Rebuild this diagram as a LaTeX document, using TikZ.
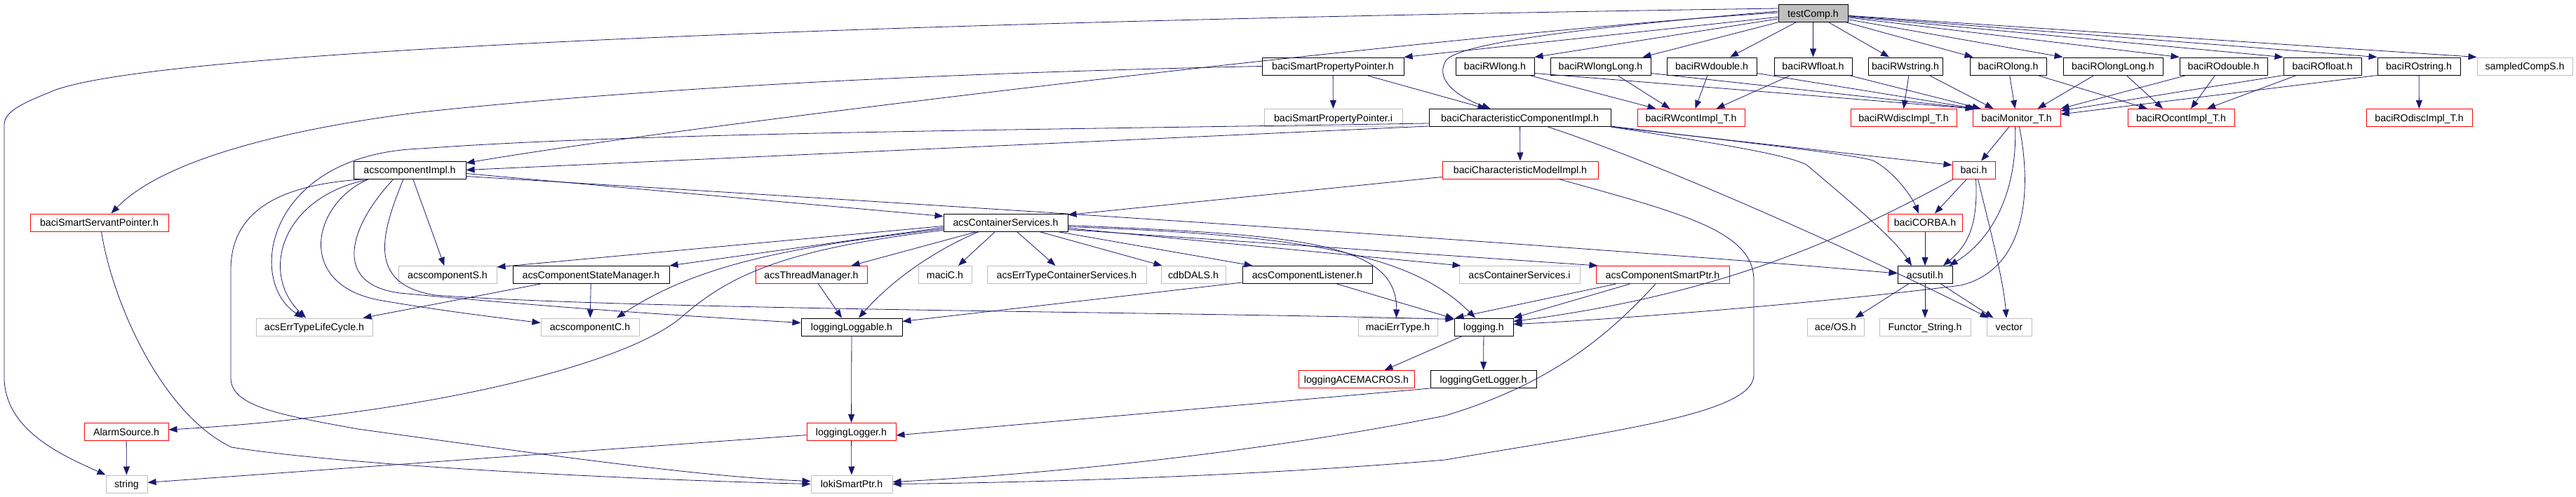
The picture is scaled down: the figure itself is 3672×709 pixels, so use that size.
\documentclass[tikz,border=0pt]{standalone}
\usepackage{fontspec}
\setmainfont{Liberation Sans}
\usetikzlibrary{arrows.meta,calc}
\definecolor{edgeblue}{HTML}{191970}
\definecolor{extgray}{HTML}{BFBFBF}
\tikzset{
  box/.style={rectangle, minimum height=25, inner sep=0pt, line width=1pt,
    font=\fontsize{14.2}{16}\selectfont, text height=10.4pt, text depth=0pt},
  doc/.style={box, draw=black, fill=white},
  trunc/.style={box, draw=red, fill=white},
  ext/.style={box, draw=extgray, fill=white},
  root/.style={box, draw=black, fill=extgray},
  e/.style={draw=edgeblue, line width=0.8pt, -{Triangle[length=12pt,width=9pt]}, edgeblue},
}
\begin{document}
\begin{tikzpicture}[x=1pt,y=-1pt]
\fill[white] (0,0) rectangle (3672,709);
\useasboundingbox (0,0) rectangle (3672,709);
% ---------- nodes ----------
\node[root,minimum width=99] (tc) at (2584.5,19) {testComp.h};
\node[doc,minimum width=202] (sppH) at (1900,94.5) {baciSmartPropertyPointer.h};
\node[doc,minimum width=112] (rwl) at (2131,94.5) {baciRWlong.h};
\node[doc,minimum width=143] (rwll) at (2281.5,94.5) {baciRWlongLong.h};
\node[doc,minimum width=128] (rwd) at (2440,94.5) {baciRWdouble.h};
\node[doc,minimum width=111] (rwf) at (2584.5,94.5) {baciRWfloat.h};
\node[doc,minimum width=106] (rws) at (2716,94.5) {baciRWstring.h};
\node[doc,minimum width=109] (rol) at (2862.5,94.5) {baciROlong.h};
\node[doc,minimum width=142] (roll) at (3012,94.5) {baciROlongLong.h};
\node[doc,minimum width=125] (rod) at (3169.5,94.5) {baciROdouble.h};
\node[doc,minimum width=111] (rof) at (3310.5,94.5) {baciROfloat.h};
\node[doc,minimum width=118] (ros) at (3448,94.5) {baciROstring.h};
\node[ext,minimum width=136] (samp) at (3599,94.5) {sampledCompS.h};
\node[ext,minimum width=197] (sppI) at (1900.5,168) {baciSmartPropertyPointer.i};
\node[doc,minimum width=259] (cci) at (2166.5,168) {baciCharacteristicComponentImpl.h};
\node[trunc,minimum width=153] (rwc) at (2410.5,168) {baciRWcontImpl\_T.h};
\node[trunc,minimum width=151] (rwdi) at (2713.5,168) {baciRWdiscImpl\_T.h};
\node[trunc,minimum width=125] (mon) at (2874.5,168) {baciMonitor\_T.h};
\node[trunc,minimum width=152] (roc) at (3109,168) {baciROcontImpl\_T.h};
\node[trunc,minimum width=151] (rodi) at (3448.5,168) {baciROdiscImpl\_T.h};
\node[doc,minimum width=160] (aci) at (584,242.5) {acscomponentImpl.h};
\node[trunc,minimum width=222] (cmi) at (2167,242.5) {baciCharacteristicModelImpl.h};
\node[trunc,minimum width=61] (baci) at (2813.5,242.5) {baci.h};
\node[trunc,minimum width=197] (ssp) at (141.5,317.5) {baciSmartServantPointer.h};
\node[doc,minimum width=177] (acs) at (1433.5,317.5) {acsContainerServices.h};
\node[trunc,minimum width=106] (corba) at (2744,317.5) {baciCORBA.h};
\node[ext,minimum width=140] (cS) at (638,392) {acscomponentS.h};
\node[doc,minimum width=223] (csm) at (842.5,392) {acsComponentStateManager.h};
\node[trunc,minimum width=159] (thr) at (1156.5,392) {acsThreadManager.h};
\node[ext,minimum width=76] (maciC) at (1347,392) {maciC.h};
\node[ext,minimum width=227] (etcs) at (1520.5,392) {acsErrTypeContainerServices.h};
\node[ext,minimum width=92] (cdb) at (1701,392) {cdbDALS.h};
\node[doc,minimum width=185] (lis) at (1863.5,392) {acsComponentListener.h};
\node[ext,minimum width=172] (csi) at (2166,392) {acsContainerServices.i};
\node[trunc,minimum width=190] (csp) at (2370,392) {acsComponentSmartPtr.h};
\node[doc,minimum width=78] (util) at (2744,392) {acsutil.h};
\node[ext,minimum width=166] (lc) at (448,466.5) {acsErrTypeLifeCycle.h};
\node[ext,minimum width=140] (cC) at (841,466.5) {acscomponentC.h};
\node[doc,minimum width=144] (ll) at (1214,466.5) {loggingLoggable.h};
\node[ext,minimum width=113] (met) at (1992.5,466.5) {maciErrType.h};
\node[doc,minimum width=84] (log) at (2115,466.5) {logging.h};
\node[ext,minimum width=81] (ace) at (2616.5,466.5) {ace/OS.h};
\node[ext,minimum width=130] (fs) at (2744,466.5) {Functor\_String.h};
\node[ext,minimum width=64] (vec) at (2864,466.5) {vector};
\node[trunc,minimum width=165] (acem) at (1933.5,541) {loggingACEMACROS.h};
\node[doc,minimum width=151] (glog) at (2114.5,541) {loggingGetLogger.h};
\node[trunc,minimum width=120] (alarm) at (180,616) {AlarmSource.h};
\node[trunc,minimum width=127] (logger) at (1213.5,616) {loggingLogger.h};
\node[ext,minimum width=59] (str) at (180.5,690.5) {string};
\node[ext,minimum width=116] (loki) at (1214,690.5) {lokiSmartPtr.h};
% ---------- edges from testComp.h ----------
\draw[e] (tc) -- (sppH.north east);
\draw[e] (tc) -- (rwl.north east);
\draw[e] (tc) -- ($(rwll.north east)+(-12,0)$);
\draw[e] (tc) -- ($(rwd.north)+(26,0)$);
\draw[e] (tc) -- (rwf);
\draw[e] (tc) -- ($(rws.north)+(-23,0)$);
\draw[e] (tc) -- ($(rol.north west)+(5,0)$);
\draw[e] (tc) -- (roll.north west);
\draw[e] (tc) -- (rod.north west);
\draw[e] (tc) -- (rof.north west);
\draw[e] (tc) -- (ros.north west);
\draw[e] (tc) -- (samp.north west);
\draw[e] ($(tc.west)+(0,-3)$) .. controls (2300,36) and (2090,58) .. (2062,85)
   .. controls (2045,110) and (2070,135) .. ($(cci.north)+(-42,0)$);
\draw[e] ($(tc.west)+(0,-1)$) .. controls (2100,45) and (1000,175) .. ($(aci.north east)+(0,3)$);
\draw[e] ($(tc.west)+(0,-7)$) .. controls (1300,30) and (200,70) .. (70,132)
   .. controls (30,148) and (6,160) .. (6,178) -- (6,540)
   .. controls (8,615) and (90,650) .. (str.north west);
% ---------- baciSmartPropertyPointer.h ----------
\draw[e] (sppH) -- (sppI);
\draw[e] ($(sppH.south)+(48,0)$) -- ($(cci.north)+(-48,0)$);
\draw[e] (sppH.west) .. controls (1300,105) and (900,128) .. (600,160)
   .. controls (400,185) and (230,230) .. ($(ssp.north)+(17,0)$);
% ---------- baciCharacteristicComponentImpl.h ----------
\draw[e] ($(cci.west)+(0,12)$) -- (aci.east);
\draw[e] ($(cci.west)+(0,8)$) .. controls (1400,186) and (900,190) .. (600,212)
   .. controls (380,220) and (350,400) .. ($(lc.north)+(-16,0)$);
\draw[e] (cci) -- (cmi);
\draw[e] (cci.south east) -- ($(baci.west)+(0,-7)$);
\draw[e] (cci.south east) .. controls (2450,205) and (2545,220) .. (2575,235)
   .. controls (2640,290) and (2700,340) .. ($(util.north)+(-19,0)$);
\draw[e] ($(cci.south east)+(0,-1)$) .. controls (2500,205) and (2640,220) .. (2670,229)
   .. controls (2700,245) and (2725,280) .. ($(corba.north)+(-9,0)$);
\draw[e] ($(cci.south)+(40,0)$) .. controls (2400,245) and (2700,385) .. ($(vec.north west)+(3,0)$);
% ---------- baciCharacteristicModelImpl.h ----------
\draw[e] ($(cmi.west)+(0,10)$) -- ($(acs.north east)+(0,2)$);
\draw[e] ($(cmi.south)+(55,0)$) .. controls (2400,305) and (2500,330) .. (2500,400) -- (2500,535)
   .. controls (2500,590) and (2300,615) .. (2060,656)
   .. controls (1800,678) and (1500,688) .. (loki.east);
% ---------- acscomponentImpl.h ----------
\draw[e] ($(aci.east)+(0,5)$) -- ($(acs.west)+(0,-9)$);
\draw[e] ($(aci.east)+(0,9)$) .. controls (1200,284) and (2200,346) .. ($(util.west)+(0,-2)$);
\draw[e] (aci) -- (cS);
\draw[e] ($(aci.south west)+(24,0)$) .. controls (400,280) and (370,390) .. ($(lc.north)+(-12,0)$);
\draw[e] ($(aci.south west)+(22,0)$) .. controls (445,290) and (420,405) .. (540,428)
   .. controls (620,442) and (700,452) .. ($(cC.west)+(0,-6)$);
\draw[e] ($(aci.south)+(-23,0)$) .. controls (500,320) and (470,405) .. (570,418)
   .. controls (800,440) and (1000,452) .. ($(ll.west)+(0,-6)$);
\draw[e] ($(aci.south)+(-9,0)$) .. controls (545,330) and (520,405) .. (620,421)
   .. controls (900,442) and (1700,445) .. ($(log.north west)+(0,2)$);
\draw[e] ($(aci.south west)+(20,0)$) .. controls (400,262) and (329,300) .. (329,385) -- (329,540)
   .. controls (330,580) and (400,592) .. (510,612)
   .. controls (800,652) and (1000,680) .. ($(loki.west)+(0,-4)$);
% ---------- baciSmartServantPointer.h ----------
\draw[e] ($(ssp.south)+(3,0)$) .. controls (160,430) and (230,590) .. (330,638)
   .. controls (500,665) and (900,684) .. (loki.west);
% ---------- acsContainerServices.h ----------
\draw[e] ($(acs.west)+(0,5)$) -- ($(cS.north east)+(0,2)$);
\draw[e] ($(acs.west)+(0,7)$) -- (csm.north east);
\draw[e] ($(acs.west)+(0,9)$) .. controls (1150,350) and (1000,372) .. ($(cC.north)+(38,0)$);
\draw[e] ($(acs.west)+(0,11)$) .. controls (1120,355) and (1040,392) .. (972,452)
   .. controls (890,522) and (600,592) .. ($(alarm.east)+(0,-3)$);
\draw[e] ($(acs.south)+(-41,0)$) -- ($(thr.north)+(57,0)$);
\draw[e] ($(acs.south)+(-38,0)$) .. controls (1320,362) and (1262,410) .. ($(ll.north)+(10,0)$);
\draw[e] ($(acs.south)+(-15,0)$) -- ($(maciC.north)+(19,0)$);
\draw[e] ($(acs.south)+(16,0)$) -- ($(etcs.north)+(-16,0)$);
\draw[e] ($(acs.south)+(48,0)$) -- ($(cdb.north west)+(2,0)$);
\draw[e] ($(acs.south east)+(-15,0)$) -- ($(lis.north west)+(15,0)$);
\draw[e] ($(acs.east)+(0,4)$) .. controls (1850,335) and (1992,345) .. ($(met.north)+(-2,0)$);
\draw[e] ($(acs.east)+(0,6)$) .. controls (1850,335) and (2010,360) .. ($(log.north)+(-12,0)$);
\draw[e] ($(acs.east)+(0,8)$) -- ($(csi.north west)+(3,0)$);
\draw[e] ($(acs.east)+(0,10)$) -- ($(csp.north west)+(3,0)$);
% ---------- row 5 sources ----------
\draw[e] (csm) -- (cC);
\draw[e] ($(csm.south west)+(40,0)$) -- ($(lc.north east)+(-14,0)$);
\draw[e] ($(thr.south)+(10,0)$) -- ($(ll.north)+(-14,0)$);
\draw[e] ($(lis.south west)+(0,-2)$) -- ($(ll.east)+(0,-8)$);
\draw[e] ($(lis.south)+(42,0)$) -- ($(log.north west)+(0,1)$);
\draw[e] ($(csp.south west)+(29,0)$) -- ($(log.north west)+(2,0)$);
\draw[e] ($(csp.south west)+(49,0)$) -- (log.north east);
\draw[e] ($(csp.south)+(-10,0)$) .. controls (2300,470) and (2220,545) .. (2060,593)
   .. controls (1800,645) and (1500,676) .. ($(loki.east)+(0,-3)$);
% ---------- logging ----------
\draw[e] ($(log.south west)+(12,0)$) -- ($(acem.north)+(40,0)$);
\draw[e] (log) -- (glog);
\draw[e] (glog.south west) -- ($(logger.east)+(0,5)$);
\draw[e] (ll) -- (logger);
\draw[e] (logger) -- (loki);
\draw[e] (logger) -- (str);
\draw[e] (alarm) -- (str);
% ---------- baci.h ----------
\draw[e] ($(baci.south)+(-10,0)$) -- ($(corba.north)+(14,0)$);
\draw[e] ($(baci.south)+(3,0)$) .. controls (2820,320) and (2805,350) .. ($(util.north)+(26,0)$);
\draw[e] ($(baci.south)+(6,0)$) .. controls (2835,320) and (2856,400) .. ($(vec.north)+(-4,0)$);
\draw[e] ($(baci.south west)+(2,0)$) .. controls (2620,345) and (2450,420) .. ($(log.east)+(0,-8)$);
% ---------- baciMonitor_T.h ----------
\draw[e] (mon) -- (baci);
\draw[e] ($(mon.south)+(-2,0)$) .. controls (2876,280) and (2835,345) .. ($(util.north east)+(-5,0)$);
\draw[e] ($(mon.south)+(4,0)$) .. controls (2898,280) and (2885,385) .. (2795,407)
   .. controls (2600,432) and (2300,456) .. ($(log.east)+(0,-4)$);
% ---------- baciCORBA.h / acsutil.h ----------
\draw[e] (corba) -- (util);
\draw[e] ($(util.south west)+(16,0)$) -- ($(ace.north)+(28,0)$);
\draw[e] (util) -- (fs);
\draw[e] ($(util.south east)+(-17,0)$) -- ($(vec.north west)+(10,0)$);
% ---------- row 1 -> row 2 ----------
\draw[e] ($(rwl.south)+(49,0)$) -- ($(rwc.north)+(-50,0)$);
\draw[e] ($(rwl.east)+(0,10)$) -- ($(mon.north west)+(2,0)$);
\draw[e] ($(rwll.south)+(24,0)$) -- ($(rwc.north)+(-30,0)$);
\draw[e] ($(rwll.east)+(0,10)$) -- ($(mon.north west)+(4,0)$);
\draw[e] ($(rwd.south)+(-6,0)$) -- ($(rwc.north)+(6,0)$);
\draw[e] ($(rwd.east)+(0,10)$) -- ($(mon.north west)+(6,0)$);
\draw[e] ($(rwf.south)+(-32,0)$) -- ($(rwc.north)+(36,0)$);
\draw[e] ($(rwf.south east)+(-5,0)$) -- ($(mon.north west)+(12,0)$);
\draw[e] ($(rws.south)+(5,0)$) -- (rwdi.north);
\draw[e] ($(rws.south)+(34,0)$) -- ($(mon.north)+(-33,0)$);
\draw[e] (rol) -- (mon);
\draw[e] ($(rol.south)+(42,0)$) -- ($(roc.north)+(-48,0)$);
\draw[e] ($(roll.south)+(-27,0)$) -- ($(mon.north)+(30,0)$);
\draw[e] ($(roll.south)+(19,0)$) -- ($(roc.north)+(-26,0)$);
\draw[e] ($(rod.south west)+(10,0)$) -- (mon.north east);
\draw[e] ($(rod.south)+(-12,0)$) -- ($(roc.north)+(14,0)$);
\draw[e] (rof.south west) -- ($(mon.east)+(0,-10)$);
\draw[e] ($(rof.south west)+(19,0)$) -- ($(roc.north)+(37,0)$);
\draw[e] (ros.south west) -- ($(mon.east)+(0,-5)$);
\draw[e] (ros) -- (rodi);
\end{tikzpicture}
\end{document}
